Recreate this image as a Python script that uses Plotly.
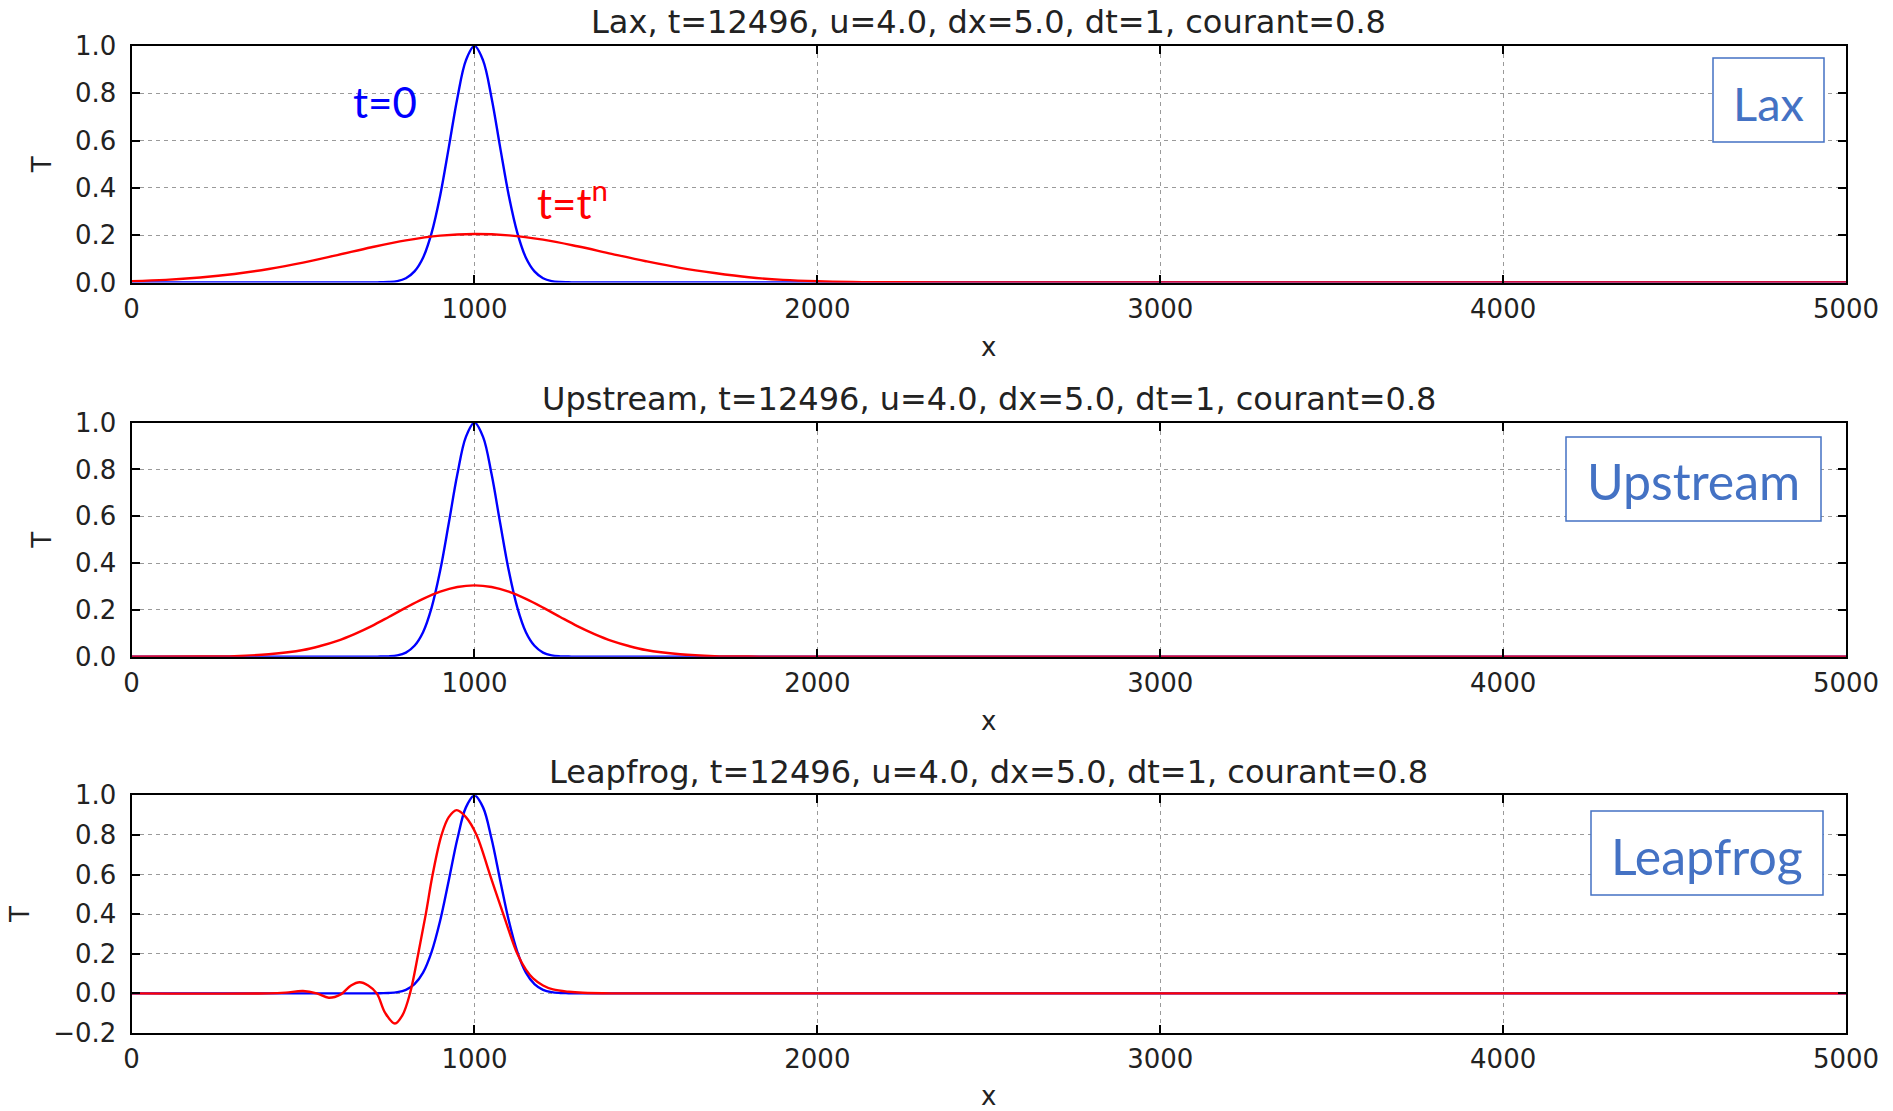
import plotly.graph_objects as go

W, H = 1893, 1111

# ---------------- data ----------------
x_ticks = [0, 1000, 2000, 3000, 4000, 5000]
x_tick_labels = ["0", "1000", "2000", "3000", "4000", "5000"]

# initial condition (t=0), same in the three panels
x_init = [0, 650, 700, 725, 750, 775, 800, 825, 850, 875, 900, 925, 950, 975, 1000,
          1025, 1050, 1075, 1100, 1125, 1150, 1175, 1200, 1225, 1250, 1275, 1300, 1350, 5000]
T_init = [0, 0, 0.0, 0.001, 0.002, 0.006, 0.018, 0.047, 0.105, 0.21, 0.368, 0.57, 0.779, 0.939, 1.0,
          0.939, 0.779, 0.57, 0.368, 0.21, 0.105, 0.047, 0.018, 0.006, 0.002, 0.001, 0.0, 0, 0]

# Lax scheme at t=t^n
x_lax = [0, 100, 200, 300, 400, 500, 600, 700, 800, 900, 1000, 1100, 1200, 1300, 1400,
         1500, 1600, 1700, 1800, 1900, 2000, 2100, 2200, 2400, 5000]
T_lax = [0.006, 0.011, 0.021, 0.036, 0.057, 0.084, 0.116, 0.149, 0.178, 0.198, 0.205, 0.199, 0.181,
         0.153, 0.121, 0.09, 0.062, 0.04, 0.022, 0.011, 0.005, 0.002, 0.001, 0, 0]

# Upstream scheme at t=t^n
x_up = [0, 200, 300, 400, 500, 550, 600, 650, 700, 750, 800, 850, 900, 950, 1000,
        1050, 1100, 1150, 1200, 1250, 1300, 1350, 1400, 1450, 1500, 1600, 1700, 1800, 2000, 5000]
T_up = [0, 0.001, 0.003, 0.011, 0.029, 0.046, 0.068, 0.097, 0.131, 0.17, 0.21, 0.247, 0.278, 0.298, 0.305,
        0.298, 0.278, 0.247, 0.21, 0.17, 0.131, 0.097, 0.068, 0.046, 0.029, 0.011, 0.003, 0.001, 0, 0]

# Leapfrog scheme at t=t^n
x_leap = [0, 400, 450, 500, 540, 575, 610, 640, 665, 690, 715, 740, 768, 790, 812, 836, 858, 878,
          904, 925, 948, 975, 1006, 1045, 1084, 1125, 1150, 1171, 1200, 1229, 1275, 1316, 1400, 5000]
T_leap = [0, 0, 0.004, 0.012, 0.0, -0.022, -0.005, 0.04, 0.056, 0.04, 0.0, -0.1, -0.152, -0.11, 0.0,
          0.2, 0.4, 0.6, 0.8, 0.89, 0.925, 0.89, 0.8, 0.6, 0.4, 0.2, 0.12, 0.076, 0.04, 0.02, 0.008,
          0.003, 0, 0]

panel_titles = [
    "Lax, t=12496, u=4.0, dx=5.0, dt=1, courant=0.8",
    "Upstream, t=12496, u=4.0, dx=5.0, dt=1, courant=0.8",
    "Leapfrog, t=12496, u=4.0, dx=5.0, dt=1, courant=0.8",
]
scheme_names = ["Lax", "Upstream", "Leapfrog"]
y_ranges = [[0, 1.0], [0, 1.0], [-0.2, 1.0]]
series_red = [(x_lax, T_lax), (x_up, T_up), (x_leap, T_leap)]

# ---------------- layout helpers ----------------
def px(x):
    return x / W

def py(y):
    return 1 - y / H

x_left, x_right = 131.6, 1846.0
panel_px = [(45.9, 282.5), (422.6, 656.8), (795.3, 1033.0)]  # (top, bottom) in pixels
box_px = [(1713, 58, 1824, 142), (1566, 437, 1821, 521), (1591, 811, 1823, 895)]
box_font = [47, 50, 50]

BLUE = "#0000ff"
RED = "#ff0000"
BOX = "#4472c4"

fig = go.Figure()

for i in range(3):
    sfx = "" if i == 0 else str(i + 1)
    fig.add_trace(go.Scatter(x=x_init, y=T_init, mode="lines", line=dict(color=BLUE, width=2.4, shape="spline"),
                             xaxis="x" + sfx, yaxis="y" + sfx, showlegend=False, hoverinfo="skip"))
    xr, yr = series_red[i]
    fig.add_trace(go.Scatter(x=xr, y=yr, mode="lines", line=dict(color=RED, width=2.4, shape="spline"),
                             xaxis="x" + sfx, yaxis="y" + sfx, showlegend=False, hoverinfo="skip"))

tickfont = dict(family="DejaVu Sans", size=26, color="#222222")
common = dict(showline=True, linecolor="black", linewidth=2, mirror="ticks", ticks="inside", ticklen=8,
              tickcolor="black", tickwidth=1.5, showgrid=True, gridcolor="#9a9a9a", griddash="4px,4px",
              gridwidth=1, zeroline=False, tickfont=tickfont, automargin=False)

layout = dict(template="none", width=W, height=H, margin=dict(l=0, r=0, t=0, b=0, pad=0),
              paper_bgcolor="white", plot_bgcolor="white", showlegend=False)

annotations = []
shapes = []
for i in range(3):
    sfx = "" if i == 0 else str(i + 1)
    top, bot = panel_px[i]
    layout["xaxis" + sfx] = dict(common, domain=[px(x_left), px(x_right)], range=[0, 5000],
                                 tickvals=x_ticks, ticktext=x_tick_labels, anchor="y" + sfx,
                                 ticklabelstandoff=2,
                                 title=dict(text="x", font=tickfont, standoff=15))
    layout["yaxis" + sfx] = dict(common, domain=[py(bot), py(top)], range=y_ranges[i], dtick=0.2,
                                 tick0=0, tickformat=".1f", anchor="x" + sfx, ticklabelstandoff=8,
                                 title=dict(text="T", font=tickfont, standoff=16))
    annotations.append(dict(text=panel_titles[i], x=px((x_left + x_right) / 2), y=py(top - 23.5),
                            xref="paper", yref="paper", xanchor="center", yanchor="middle", showarrow=False,
                            font=dict(family="DejaVu Sans", size=32, color="#222222")))
    x0, y0, x1, y1 = box_px[i]
    shapes.append(dict(type="rect", xref="paper", yref="paper", x0=px(x0), x1=px(x1), y0=py(y1), y1=py(y0),
                       line=dict(color=BOX, width=1.5), fillcolor="white", layer="above"))
    annotations.append(dict(text=scheme_names[i], x=px((x0 + x1) / 2), y=py((y0 + y1) / 2 + 2.5),
                            xref="paper", yref="paper", xanchor="center", yanchor="middle", showarrow=False,
                            font=dict(family="Lato", size=box_font[i], color=BOX)))

annotations.append(dict(text="t=0", x=px(384.5), y=py(102), xref="paper", yref="paper", xanchor="center",
                        yanchor="middle", showarrow=False, font=dict(family="Lato", size=42, color=BLUE)))
annotations.append(dict(text="t=t<sup>n</sup>", x=px(572), y=py(200), xref="paper", yref="paper",
                        xanchor="center", yanchor="middle", showarrow=False,
                        font=dict(family="Lato", size=42, color=RED)))

layout["annotations"] = annotations
layout["shapes"] = shapes
fig.update_layout(**layout)

fig.write_html("out.html")
